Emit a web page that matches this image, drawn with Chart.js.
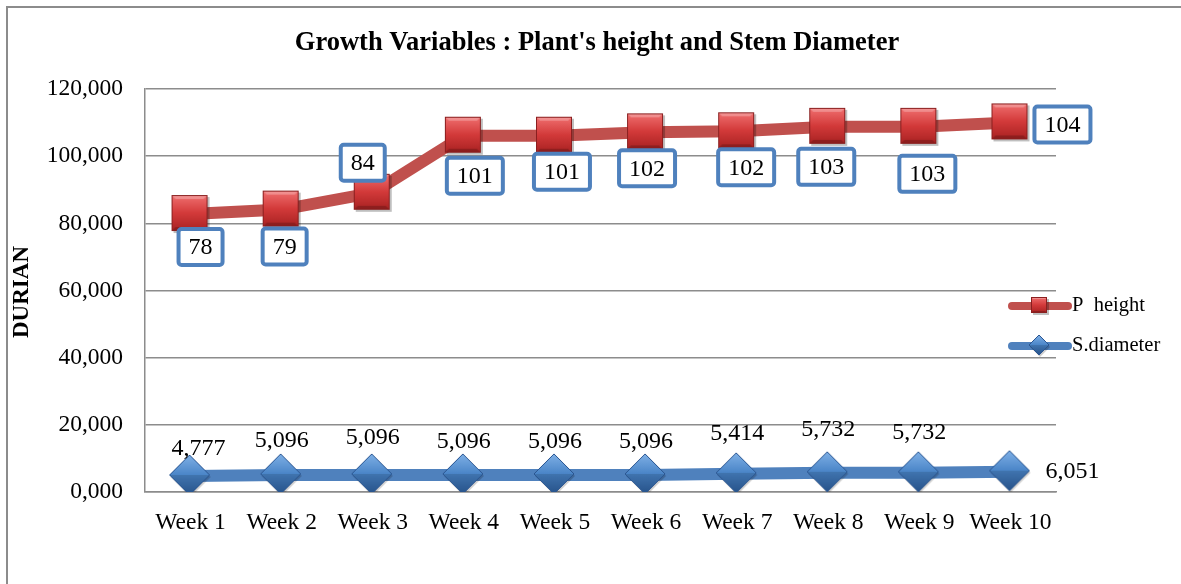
<!DOCTYPE html>
<html>
<head>
<meta charset="utf-8">
<script src="https://cdn.jsdelivr.net/npm/chart.js@4.4.1/dist/chart.umd.min.js"></script>
<style>
html,body{margin:0;padding:0;background:#fff;}
#wrap{width:1181px;height:584px;position:relative;}
</style>
</head>
<body>
<div id="wrap"><canvas id="c" width="1181" height="584"></canvas></div>
<script>
const categories = ['Week 1','Week 2','Week 3','Week 4','Week 5','Week 6','Week 7','Week 8','Week 9','Week 10'];
const stemDiameter = [4.777, 5.096, 5.096, 5.096, 5.096, 5.096, 5.414, 5.732, 5.732, 6.051];
const plantHeight = [78, 79, 84, 101, 101, 102, 102, 103, 103, 104];
const yTicks = [0, 20, 40, 60, 80, 100, 120];
const chartTitle = "Growth Variables : Plant's height and Stem Diameter";
const yTitle = 'DURIAN';
const seriesNames = ['P  height', 'S.diameter'];

// label placement offsets (style, not data)
const heightLabelOffsets = [[10,33],[3,37],[-10,-30],[11,40],[7,36],[1,36],[9,36],[-2,40],[8,47],[52,2]];
const diamLabelOffsets = [[8,-27],[0,-34],[0,-37],[0,-33],[0,-33],[0,-33],[0,-40],[0,-43],[0,-40],[62,0]];

const FONT = '"Liberation Serif", "Times New Roman", serif';
const RED = '#c0504d', BLUE = '#4f81bd';

function makeSquare(s){
  const c = document.createElement('canvas'); c.width = s+4; c.height = s+4;
  const g = c.getContext('2d');
  const o = 1;
  g.fillStyle = 'rgba(0,0,0,0.25)'; g.fillRect(o+2,o+2,s,s);
  const gr = g.createLinearGradient(0,o,0,o+s);
  gr.addColorStop(0,'#f07070'); gr.addColorStop(0.5,'#d33a3a'); gr.addColorStop(1,'#a82222');
  g.fillStyle = gr; g.fillRect(o,o,s,s);
  const b = Math.round(s*0.12);
  g.fillStyle='rgba(255,255,255,0.25)';
  g.beginPath(); g.moveTo(o,o); g.lineTo(o+s,o); g.lineTo(o+s-b,o+b); g.lineTo(o+b,o+b); g.closePath(); g.fill();
  g.fillStyle='rgba(0,0,0,0.18)';
  g.beginPath(); g.moveTo(o,o+s); g.lineTo(o+s,o+s); g.lineTo(o+s-b,o+s-b); g.lineTo(o+b,o+s-b); g.closePath(); g.fill();
  g.strokeStyle='#8a1f1f'; g.lineWidth=1; g.strokeRect(o+0.5,o+0.5,s-1,s-1);
  return c;
}
function makeDiamond(s){
  const c = document.createElement('canvas'); c.width = s+4; c.height = s+4;
  const g = c.getContext('2d');
  const cx = s/2+1, cy = s/2+1, r = s/2;
  g.fillStyle='rgba(0,0,0,0.2)';
  g.beginPath(); g.moveTo(cx+1,cy-r+2); g.lineTo(cx+r+1,cy+2); g.lineTo(cx+1,cy+r+2); g.lineTo(cx-r+1,cy+2); g.closePath(); g.fill();
  const gr = g.createLinearGradient(0,cy-r,0,cy+r);
  gr.addColorStop(0,'#7fb0e6'); gr.addColorStop(0.5,'#4a85c8'); gr.addColorStop(1,'#2d5f9e');
  g.fillStyle=gr;
  g.beginPath(); g.moveTo(cx,cy-r); g.lineTo(cx+r,cy); g.lineTo(cx,cy+r); g.lineTo(cx-r,cy); g.closePath(); g.fill();
  g.fillStyle='rgba(0,0,0,0.12)';
  g.beginPath(); g.moveTo(cx-r,cy); g.lineTo(cx+r,cy); g.lineTo(cx,cy+r); g.closePath(); g.fill();
  g.strokeStyle='#2a5590'; g.lineWidth=1;
  g.beginPath(); g.moveTo(cx,cy-r); g.lineTo(cx+r,cy); g.lineTo(cx,cy+r); g.lineTo(cx-r,cy); g.closePath(); g.stroke();
  return c;
}
const sqBig = makeSquare(36), dmBig = makeDiamond(40);
const sqSmall = makeSquare(16), dmSmall = makeDiamond(20);

function fmt(v, d){ return v.toFixed(d).replace('.', ','); }

const deco = {
  id:'deco',
  beforeDraw(chart){
    const ctx = chart.ctx;
    ctx.save();
    ctx.fillStyle='#fff'; ctx.fillRect(0,0,chart.width,chart.height);
    ctx.strokeStyle='#8c8c8c'; ctx.lineWidth=2;
    ctx.beginPath(); ctx.moveTo(7,584); ctx.lineTo(7,7); ctx.lineTo(1181,7); ctx.stroke();
    ctx.restore();
  },
  afterDraw(chart){
    const ctx = chart.ctx;
    ctx.save();
    ctx.fillStyle='#000'; ctx.font='bold 26.5px '+FONT; ctx.textAlign='center'; ctx.textBaseline='middle';
    ctx.fillText(chartTitle, 597, 43);
    ctx.save(); ctx.translate(22, 292); ctx.rotate(-Math.PI/2);
    ctx.font='bold 23px '+FONT; ctx.fillText(yTitle, 0, 0); ctx.restore();
    const m0 = chart.getDatasetMeta(0), m1 = chart.getDatasetMeta(1);
    ctx.font='24px '+FONT; ctx.textBaseline='middle'; ctx.textAlign='center';
    m0.data.forEach((p,i)=>{
      const o = diamLabelOffsets[i];
      ctx.fillStyle='#000';
      ctx.fillText(fmt(stemDiameter[i],3), p.x+o[0], p.y+o[1]);
    });
    m1.data.forEach((p,i)=>{
      const o = heightLabelOffsets[i];
      const t = String(plantHeight[i]);
      const w = ctx.measureText(t).width + 20, h = 36;
      const x = p.x+o[0], y = p.y+o[1];
      ctx.fillStyle='#fff';
      ctx.beginPath(); ctx.roundRect(x-w/2, y-h/2, w, h, 3); ctx.fill();
      ctx.strokeStyle=BLUE; ctx.lineWidth=4; ctx.stroke();
      ctx.fillStyle='#000'; ctx.fillText(t, x, y+1);
    });
    const lx1 = 1012, lx2 = 1068;
    [[RED, sqSmall, 306, seriesNames[0]],[BLUE, dmSmall, 346, seriesNames[1]]].forEach(([col,img,y,txt])=>{
      ctx.strokeStyle=col; ctx.lineWidth=8; ctx.lineCap='round';
      ctx.beginPath(); ctx.moveTo(lx1,y); ctx.lineTo(lx2,y); ctx.stroke();
      ctx.drawImage(img, (lx1+lx2)/2 - img.width/2, y - img.height/2);
      ctx.fillStyle='#000'; ctx.font='20.5px '+FONT; ctx.textAlign='left';
      ctx.fillText(txt, 1072, y);
    });
    ctx.restore();
  }
};

new Chart(document.getElementById('c'), {
  type:'line',
  data:{
    labels: categories,
    datasets:[
      {label: seriesNames[1], data: stemDiameter, borderColor: BLUE, backgroundColor: BLUE, borderWidth: 12,
       pointStyle: dmBig, pointRadius: 20, fill:false, tension:0},
      {label: seriesNames[0], data: plantHeight, borderColor: RED, backgroundColor: RED, borderWidth: 12,
       pointStyle: sqBig, pointRadius: 19, fill:false, tension:0}
    ]
  },
  options:{
    responsive:false, animation:false, devicePixelRatio:1,
    layout:{padding:{left:0, right:125, top:89, bottom:52}},
    plugins:{legend:{display:false}, tooltip:{enabled:false}, title:{display:false}},
    scales:{
      x:{
        offset:true,
        grid:{display:false, drawTicks:false},
        border:{display:true, color:'#8c8c8c', width:1.5},
        ticks:{font:{family:FONT, size:23.5}, color:'#000', padding:17, maxRotation:0, autoSkip:false},
        afterFit(s){ s.height = 40; }
      },
      y:{
        stacked:true, min:0, max:120,
        afterBuildTicks(s){ s.ticks = yTicks.map(v=>({value:v})); },
        grid:{color:'#8c8c8c', lineWidth:1.5, drawTicks:false},
        border:{display:true, color:'#8c8c8c', width:1.5},
        ticks:{font:{family:FONT, size:23.5}, color:'#000', padding:22, callback:(v)=>fmt(v,3)},
        afterFit(s){ s.width = 145; }
      }
    }
  },
  plugins:[deco]
});
</script>
</body>
</html>
